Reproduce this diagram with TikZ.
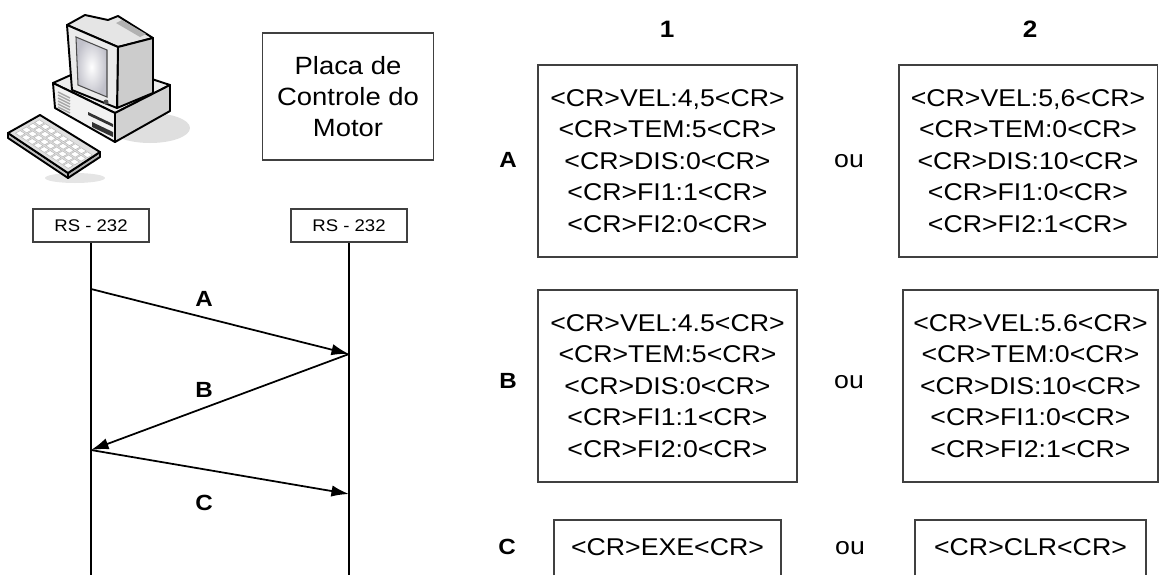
\documentclass[tikz,border=0pt]{standalone}
\usepackage{fontspec}
\setmainfont{Liberation Sans}[FakeStretch=1.1]
\usetikzlibrary{arrows.meta}

\tikzset{
  msgbox/.style={draw=black!75,line width=1.1pt,align=center,inner sep=0pt,
    minimum width=5.18cm,minimum height=3.84cm,font=\fontsize{13.8}{17.9}\selectfont},
  portbox/.style={draw=black!75,line width=1pt,inner sep=0pt,
    minimum width=2.32cm,minimum height=0.66cm,font=\fontsize{9.6}{10}\selectfont},
  tag/.style={font=\fontsize{12.5}{14}\selectfont\bfseries},
  plain/.style={font=\fontsize{13.8}{15}\selectfont},
  msg/.style={line width=1pt,-{Latex[length=10pt,width=6.5pt]}},
  pcline/.style={draw=black,line width=1.1pt,line join=round},
}

\begin{document}
\begin{tikzpicture}[x=0.02cm,y=-0.02cm]
\useasboundingbox (0,0) rectangle (1162,575);

% computer
\fill[gray!25] (150,128) ellipse [x radius=0.8cm,y radius=0.3cm];
\fill[gray!20] (75,178) ellipse [x radius=0.6cm,y radius=0.1cm];
% system unit
\fill[pcline,fill=white!93!black] (53,83) -- (100,62) -- (170,85) -- (115,113) -- cycle;
\fill[pcline,fill=white!95!black] (53,83) -- (115,113) -- (115,142) -- (55,108) -- cycle;
\fill[pcline,fill=white!82!black] (115,113) -- (170,85) -- (170,111) -- (115,142) -- cycle;
\foreach \k in {0,...,5}
  \draw[gray!70,line width=0.8pt] (58,{92+3*\k}) -- (70,{98+3*\k});
\fill[black!80] (88,112) -- (113,124) -- (113,127) -- (88,115) -- cycle;
\fill[black!80] (92,122) -- (113,132) -- (113,137) -- (92,127) -- cycle;
% monitor
\fill[pcline,fill=white!90!black] (67,25) -- (85,15) -- (108,20) -- (118,16) -- (153,38) -- (118,47) -- cycle;
\fill[gray!60] (116,23) -- (122,20) -- (146,34) -- (140,37) -- cycle;
\fill[pcline,fill=white!80!black] (118,47) -- (153,38) -- (153,93) -- (117,108) -- cycle;
\fill[pcline,fill=white!92!black] (67,25) -- (118,47) -- (117,108) -- (72,90) -- cycle;
\shade[inner color=white,outer color=blue!8!gray!45,draw=black!70,line width=0.6pt]
  (76,37) -- (107,50) -- (107,97) -- (78,85) -- cycle;
\fill[black!70] (106,102) circle [radius=0.05cm];
% keyboard
\fill[pcline,fill=white!75!black] (8,133) -- (68,173) -- (68,178) -- (8,138) -- cycle;
\fill[pcline,fill=white!70!black] (68,173) -- (100,152) -- (100,157) -- (68,178) -- cycle;
\fill[pcline,fill=white!88!black] (8,133) -- (40,115) -- (100,152) -- (68,173) -- cycle;
\foreach \a in {0.12,0.32,0.52,0.72}
  \foreach \b in {0.06,0.16,0.26,0.36,0.46,0.56,0.66,0.76,0.86}
    \fill[white,draw=gray!55,line width=0.3pt] ({8+32*\a+60*\b},{133-18*\a+40*\b})
      -- ++(4.8,-2.7) -- ++(4.8,3.2) -- ++(-4.8,2.7) -- cycle;

% motor board
\node[draw=black!75,line width=1.1pt,align=center,inner sep=0pt,
  minimum width=3.42cm,minimum height=2.54cm,font=\fontsize{14.2}{17.6}\selectfont]
  (placa) at (348,96.5) {Placa de\\Controle do\\Motor};

% serial ports and lifelines
\node[portbox] (rsL) at (91,225.5) {RS - 232};
\node[portbox] (rsR) at (349,225.5) {RS - 232};
\coordinate (endL) at (91,575);
\coordinate (endR) at (349,575);
\draw[line width=1pt] (rsL.south) -- (endL);
\draw[line width=1pt] (rsR.south) -- (endR);

% messages
\coordinate (a0) at (91,289);
\coordinate (a1) at (349,354);
\coordinate (b1) at (91,450);
\coordinate (c1) at (349,494);
\path[msg] (a0) edge (a1);
\path[msg] (a1) edge (b1);
\path[msg] (b1) edge (c1);
\node[tag] (lA) at (204,299) {A};
\node[tag] (lB) at (204,390) {B};
\node[tag] (lC) at (204,503) {C};

% command table
\node[tag,font=\fontsize{13.5}{15}\selectfont\bfseries] (col1) at (667,29) {1};
\node[tag,font=\fontsize{13.5}{15}\selectfont\bfseries] (col2) at (1030,29) {2};
\node[tag] (rowA) at (508,160) {A};
\node[tag] (rowB) at (508,381) {B};
\node[tag] (rowC) at (507,547) {C};
\node[plain] (ouA) at (849,161) {ou};
\node[plain] (ouB) at (849,382) {ou};
\node[plain] (ouC) at (850,548) {ou};

\node[msgbox] (A1) at (667.5,161)
  {<CR>VEL:4,5<CR>\\<CR>TEM:5<CR>\\<CR>DIS:0<CR>\\<CR>FI1:1<CR>\\<CR>FI2:0<CR>};
\node[msgbox] (A2) at (1028,161)
  {<CR>VEL:5,6<CR>\\<CR>TEM:0<CR>\\<CR>DIS:10<CR>\\<CR>FI1:0<CR>\\<CR>FI2:1<CR>};
\node[msgbox] (B1) at (667.5,386)
  {<CR>VEL:4.5<CR>\\<CR>TEM:5<CR>\\<CR>DIS:0<CR>\\<CR>FI1:1<CR>\\<CR>FI2:0<CR>};
\node[msgbox,minimum width=5.1cm] (B2) at (1030.5,386)
  {<CR>VEL:5.6<CR>\\<CR>TEM:0<CR>\\<CR>DIS:10<CR>\\<CR>FI1:0<CR>\\<CR>FI2:1<CR>};

% C boxes run off the bottom edge
\draw[draw=black!75,line width=1.1pt] (554,575) |- (781,520) -- (781,575);
\draw[draw=black!75,line width=1.1pt] (915,575) |- (1146,520) -- (1146,575);
\node[plain] (C1) at (667.5,547) {<CR>EXE<CR>};
\node[plain] (C2) at (1030.5,547) {<CR>CLR<CR>};
\end{tikzpicture}
\end{document}
